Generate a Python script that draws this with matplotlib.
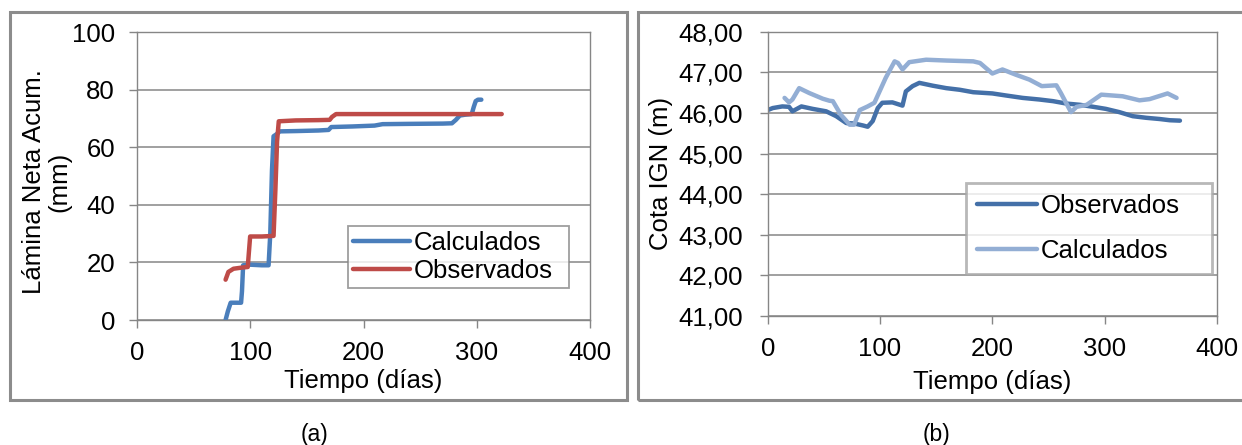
import matplotlib
matplotlib.use("Agg")
import matplotlib.pyplot as plt
from matplotlib.patches import Rectangle
from matplotlib.ticker import FuncFormatter, MultipleLocator

plt.rcParams['font.family'] = ['Liberation Sans', 'DejaVu Sans']

# === DATA ===

# (a) lamina neta acumulada (mm)
calc_a_dias = [78, 80, 82.5, 86, 91.7, 92.5, 93.5, 100, 110, 116, 117.5, 119, 120.4,
               123, 126, 140, 160, 169, 171.4, 190, 209.6, 216.7, 240, 270, 278,
               281.5, 285, 290, 295.5, 297.3, 299, 301, 304]
calc_a_mm = [0, 3, 6, 6, 6, 10, 19, 19.2, 19, 19, 30, 52, 63.8,
             64.5, 65.5, 65.6, 65.8, 66, 67, 67.2, 67.5, 68, 68.1, 68.2, 68.3,
             69.5, 71, 71.3, 71.5, 74, 76, 76.5, 76.5]

obs_a_dias = [78, 80.5, 85, 92.3, 97.6, 98.5, 99.7, 110, 120.4, 122, 123.5, 125,
              140, 160, 170, 172, 175.6, 200, 250, 300, 322]
obs_a_mm = [14, 16.7, 17.8, 18.2, 18.4, 23, 29, 29, 29.2, 45, 62, 69,
            69.3, 69.4, 69.5, 70.5, 71.5, 71.5, 71.5, 71.5, 71.5]

# (b) cota IGN (m)
obs_b_dias = [0, 4.5, 13, 19, 22, 30, 40, 52, 61, 70, 77, 85, 89, 93.5, 98, 102,
              111, 120, 123, 129, 135, 147, 159, 171, 183, 200, 212, 227, 242,
              254, 266, 278, 290, 301, 313, 325, 337, 349, 358, 367]
obs_b_cota = [46.07, 46.12, 46.16, 46.15, 46.04, 46.16, 46.10, 46.04, 45.92, 45.75,
              45.74, 45.69, 45.66, 45.80, 46.12, 46.25, 46.26, 46.18, 46.53, 46.66,
              46.74, 46.67, 46.61, 46.57, 46.51, 46.48, 46.43, 46.37, 46.33, 46.29,
              46.23, 46.20, 46.15, 46.10, 46.02, 45.92, 45.88, 45.85, 45.82, 45.81]

calc_b_dias = [15, 19, 22, 28, 37, 49, 55, 58, 65, 73, 77, 82, 89, 95, 105, 113,
               116, 120, 126, 141, 159, 183, 189, 200, 209, 221, 233, 244, 257,
               261, 270, 275, 284, 297, 316, 331, 340, 356, 364]
calc_b_cota = [46.37, 46.26, 46.33, 46.61, 46.49, 46.35, 46.30, 46.29, 45.96, 45.71,
               45.71, 46.07, 46.16, 46.25, 46.86, 47.27, 47.23, 47.07, 47.25, 47.31,
               47.29, 47.27, 47.23, 46.97, 47.07, 46.94, 46.82, 46.66, 46.68, 46.49,
               46.02, 46.15, 46.20, 46.45, 46.41, 46.31, 46.34, 46.48, 46.37]

# === STYLE ===
GRAY = '#868686'
FS = 18.5

fig = plt.figure(figsize=(12.42, 4.45), dpi=100)

# panel frames
fig.add_artist(Rectangle((10 / 1242, 1 - 400 / 445), (627 - 10) / 1242, (400 - 11.5) / 445,
                         transform=fig.transFigure, fill=False, ec='#8c8c8c', lw=2.2))
fig.add_artist(Rectangle((638 / 1242, 1 - 400 / 445), (1250 - 638) / 1242, (400 - 11.5) / 445,
                         transform=fig.transFigure, fill=False, ec='#8c8c8c', lw=2.2))

ax1 = fig.add_axes([137.3 / 1242, 1 - 320 / 445, (590 - 137.3) / 1242, (320 - 32) / 445])
ax2 = fig.add_axes([767.7 / 1242, 1 - 316 / 445, (1217 - 767.7) / 1242, (316 - 31.7) / 445])


def style_axes(ax, ypad):
    for sp in ax.spines.values():
        sp.set_color(GRAY)
        sp.set_linewidth(1)
    ax.grid(True, axis='y', color=GRAY, linewidth=1.1)
    ax.set_axisbelow(True)
    ax.tick_params(axis='both', direction='out', length=6, width=1, color=GRAY,
                   labelsize=FS, labelcolor='black')
    ax.tick_params(axis='x', pad=9)
    ax.tick_params(axis='y', pad=ypad)


# (a)
ax1.plot(calc_a_dias, calc_a_mm, color='#4A7EBB', lw=3.2, label='Calculados',
         solid_capstyle='round', solid_joinstyle='round')
ax1.plot(obs_a_dias, obs_a_mm, color='#BE4B48', lw=3.2, label='Observados',
         solid_capstyle='round', solid_joinstyle='round')
ax1.set_xlim(0, 400)
ax1.set_ylim(0, 100)
ax1.xaxis.set_major_locator(MultipleLocator(100))
ax1.yaxis.set_major_locator(MultipleLocator(20))
style_axes(ax1, 10)
ax1.set_xlabel('Tiempo (días)', fontsize=FS, va='center')
ax1.xaxis.set_label_coords(0.5, -0.212)
ax1.set_ylabel('Lámina Neta Acum.\n(mm)', fontsize=FS, va='center', multialignment='center',
               linespacing=1.1)
ax1.yaxis.set_label_coords(-0.2, 0.48)
leg1 = ax1.legend(loc='upper left', bbox_to_anchor=(0.466, 0.0, 0.488, 0.326), mode='expand',
                  borderaxespad=0, fontsize=FS, frameon=True, fancybox=False,
                  edgecolor=GRAY, handlelength=2.2, handletextpad=0.15,
                  borderpad=0.2, labelspacing=0.15)
leg1.get_frame().set_linewidth(1.3)

# (b)
ax2.plot(obs_b_dias, obs_b_cota, color='#4470A8', lw=3.2, label='Observados',
         solid_capstyle='round', solid_joinstyle='round')
ax2.plot(calc_b_dias, calc_b_cota, color='#93AED4', lw=3.2, label='Calculados',
         solid_capstyle='round', solid_joinstyle='round')
ax2.set_xlim(0, 400)
ax2.set_ylim(41, 48)
ax2.xaxis.set_major_locator(MultipleLocator(100))
ax2.yaxis.set_major_locator(MultipleLocator(1))
ax2.yaxis.set_major_formatter(FuncFormatter(lambda v, p: f"{v:.2f}".replace('.', ',')))
style_axes(ax2, 12)
ax2.set_xlabel('Tiempo (días)', fontsize=FS, va='center')
ax2.xaxis.set_label_coords(0.5, -0.231)
ax2.set_ylabel('Cota IGN (m)', fontsize=FS, va='center')
ax2.yaxis.set_label_coords(-0.2375, 0.5)
leg2 = ax2.legend(loc='upper left', bbox_to_anchor=(0.441, 0.0, 0.5475, 0.469), mode='expand',
                  borderaxespad=0, fontsize=FS, frameon=True, fancybox=False,
                  edgecolor='#A6A6A6', handlelength=2.3, handletextpad=0.15,
                  borderpad=0.45, labelspacing=0.8)
leg2.get_frame().set_linewidth(2)

# captions
fig.text(315 / 1242, 1 - 434 / 445, '(a)', ha='center', va='center', fontsize=16.5)
fig.text(937 / 1242, 1 - 434 / 445, '(b)', ha='center', va='center', fontsize=16.5)

fig.savefig('out.png', dpi=100)
